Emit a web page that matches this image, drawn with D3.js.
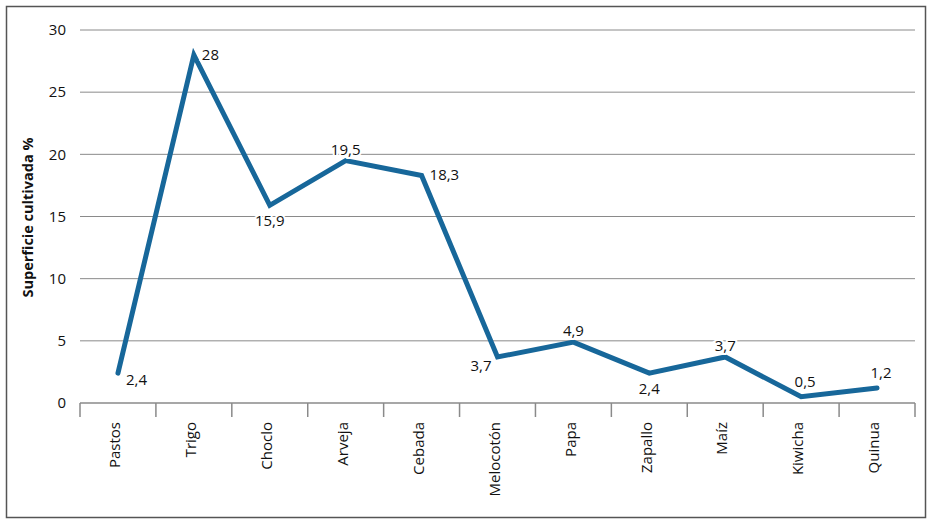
<!DOCTYPE html>
<html>
<head>
<meta charset="utf-8">
<script src="https://cdn.jsdelivr.net/npm/d3@7"></script>
<style>
  html, body { margin: 0; padding: 0; background: #fff; }
  svg { display: block; font-family: "Open Sans", "Noto Sans", sans-serif; }
</style>
</head>
<body>
<svg id="chart" width="936" height="528"></svg>
<script>
const categories = ["Pastos", "Trigo", "Choclo", "Arveja", "Cebada", "Melocotón", "Papa", "Zapallo", "Maíz", "Kiwicha", "Quinua"];
const values = [2.4, 28, 15.9, 19.5, 18.3, 3.7, 4.9, 2.4, 3.7, 0.5, 1.2];
const valueLabels = ["2,4", "28", "15,9", "19,5", "18,3", "3,7", "4,9", "2,4", "3,7", "0,5", "1,2"];
const labelPlacement = ["right-below", "right", "below", "above", "right", "left-below", "above", "below", "above", "above-high", "above-high"];
const yTicks = [0, 5, 10, 15, 20, 25, 30];
const yTitle = "Superficie cultivada %";

const svg = d3.select("#chart");
const plot = { left: 80, right: 915, top: 30, bottom: 403 };

// outer frame
svg.append("rect")
  .attr("x", 6.5).attr("y", 6.5)
  .attr("width", 919).attr("height", 511)
  .attr("fill", "#fff").attr("stroke", "#555").attr("stroke-width", 1.5);

const x = d3.scaleBand().domain(categories).range([plot.left, plot.right]).padding(0);
const y = d3.scaleLinear().domain([0, 30]).range([plot.bottom, plot.top]);

// gridlines
svg.append("g").selectAll("line")
  .data(yTicks.filter(t => t > 0))
  .join("line")
  .attr("x1", plot.left).attr("x2", plot.right)
  .attr("y1", d => y(d)).attr("y2", d => y(d))
  .attr("stroke", "#8a8a8a").attr("stroke-width", 1);

// y axis labels
const yAxis = d3.axisLeft(y).tickValues(yTicks).tickSize(0).tickPadding(14).tickFormat(d3.format("d"));
const gy = svg.append("g").attr("transform", `translate(${plot.left},0)`).call(yAxis);
gy.select(".domain").remove();
gy.selectAll("text").attr("font-size", 15).attr("fill", "#111")
  .attr("font-family", "'Open Sans', 'Noto Sans', sans-serif");

// x axis line and ticks at band boundaries
const gx = svg.append("g");
gx.append("line")
  .attr("x1", plot.left).attr("x2", plot.right)
  .attr("y1", plot.bottom).attr("y2", plot.bottom)
  .attr("stroke", "#8a8a8a").attr("stroke-width", 1.5);
const boundaries = categories.map(c => x(c)).concat([x(categories[categories.length - 1]) + x.bandwidth()]);
gx.selectAll("line.tk").data(boundaries).join("line").attr("class", "tk")
  .attr("x1", d => d).attr("x2", d => d)
  .attr("y1", plot.bottom).attr("y2", plot.bottom + 14)
  .attr("stroke", "#8a8a8a").attr("stroke-width", 1.5);

// x labels rotated
gx.selectAll("text").data(categories).join("text")
  .attr("transform", d => `translate(${x(d) + x.bandwidth() / 2 - 3},${plot.bottom + 19}) rotate(-90)`)
  .attr("text-anchor", "end")
  .attr("dy", "0.35em")
  .attr("font-size", 15)
  .attr("fill", "#111")
  .text(d => d);

// y title
svg.append("text")
  .attr("transform", `translate(28,${(plot.top + plot.bottom) / 2 + 1}) rotate(-90)`)
  .attr("text-anchor", "middle")
  .attr("dy", "0.35em")
  .attr("font-size", 14.5)
  .attr("font-weight", "bold")
  .attr("fill", "#111")
  .text(yTitle);

// line
const cx = (d, i) => x(categories[i]) + x.bandwidth() / 2;
const line = d3.line().x((d, i) => cx(d, i)).y(d => y(d));
svg.append("path")
  .datum(values)
  .attr("d", line)
  .attr("fill", "none")
  .attr("stroke", "#17679a")
  .attr("stroke-width", 5)
  .attr("stroke-linejoin", "miter")
  .attr("stroke-linecap", "round");

// data labels
const offs = {
  "right-below": { dx: 8, dy: 12, anchor: "start" },
  "right": { dx: 8, dy: 5, anchor: "start" },
  "below": { dx: 0, dy: 21, anchor: "middle" },
  "above": { dx: 0, dy: -6, anchor: "middle" },
  "above-high": { dx: 4, dy: -10, anchor: "middle" },
  "left-below": { dx: -6, dy: 14, anchor: "end" }
};
svg.append("g").selectAll("text")
  .data(values)
  .join("text")
  .attr("x", (d, i) => cx(d, i) + offs[labelPlacement[i]].dx)
  .attr("y", (d, i) => y(d) + offs[labelPlacement[i]].dy)
  .attr("text-anchor", (d, i) => offs[labelPlacement[i]].anchor)
  .attr("font-size", 15)
  .attr("fill", "#111")
  .attr("stroke", "#fff")
  .attr("stroke-width", 4)
  .attr("paint-order", "stroke")
  .text((d, i) => valueLabels[i]);
</script>
</body>
</html>
